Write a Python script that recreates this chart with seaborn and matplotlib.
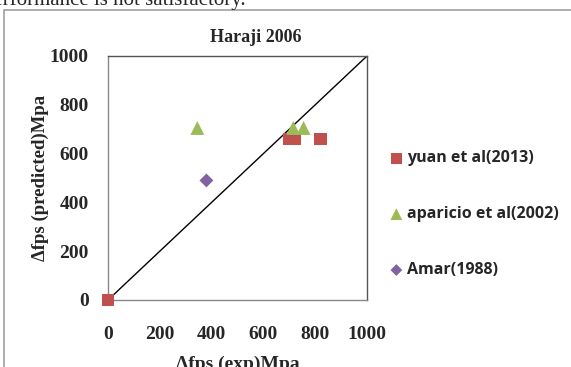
import matplotlib
matplotlib.use("Agg")
import matplotlib.pyplot as plt
import seaborn as sns
import pandas as pd
from matplotlib.patches import Rectangle

# data
yuan_x = [0, 700, 720, 820]
yuan_y = [0, 660, 660, 660]
apar_x = [345, 715, 755]
apar_y = [705, 705, 705]
amar_x = [380]
amar_y = [490]
series_names = ["yuan et al(2013)", "aparicio et al(2002)", "Amar(1988)"]
ticks = [0, 200, 400, 600, 800, 1000]
line_x = [0, 1000]
line_y = [0, 1000]

df = pd.DataFrame({
    "x": yuan_x + apar_x + amar_x,
    "y": yuan_y + apar_y + amar_y,
    "s": [series_names[0]] * len(yuan_x) + [series_names[1]] * len(apar_x) + [series_names[2]] * len(amar_x),
})

sns.set_style("white")
plt.rcParams["font.family"] = ["Liberation Serif", "DejaVu Serif"]

fig = plt.figure(figsize=(5.71, 3.67), dpi=100)
W, H = 571, 367
ax = fig.add_axes([108 / W, 1 - 300 / H, (367 - 108) / W, (300 - 56) / H])

# outer frame border
fig.patches.append(Rectangle((4 / W, -0.1), 1.2, 1 - 10 / H + 0.1, transform=fig.transFigure,
                             fill=False, edgecolor="#a0a0a0", linewidth=1.2))
fig.text(-17 / W, 1 - 5 / H, "performance is not satisfactory.", fontsize=15,
         ha="left", va="baseline")

ax.plot(line_x, line_y, color="black", lw=1, zorder=1)

palette = {series_names[0]: "#C0504D", series_names[1]: "#9BBB59", series_names[2]: "#8064A2"}
markers = {series_names[0]: "s", series_names[1]: "^", series_names[2]: "D"}
sizes = {series_names[0]: 85, series_names[1]: 100, series_names[2]: 50}
for name in series_names:
    sub = df[df["s"] == name]
    sns.scatterplot(data=sub, x="x", y="y", color=palette[name], marker=markers[name],
                    s=sizes[name], edgecolor="none", ax=ax, label=name, zorder=3, clip_on=False)

ax.set_xlim(0, 1000)
ax.set_ylim(0, 1000)
ax.set_xticks(ticks)
ax.set_yticks(ticks)
ax.set_xticklabels([str(t) for t in ticks], fontweight="bold", fontsize=14)
ax.set_yticklabels([str(t) for t in ticks], fontweight="bold", fontsize=14)
ax.tick_params(axis="both", direction="out", length=4, width=1, color="#888888")
ax.tick_params(axis="y", pad=10)
ax.tick_params(axis="x", pad=15)
for sp in ax.spines.values():
    sp.set_color("#555555")
    sp.set_linewidth(1)
for k in ["left", "bottom"]:
    ax.spines[k].set_color("#888888")

ax.set_title("Haraji 2006", fontweight="bold", fontsize=13, pad=10, x=(256 - 108) / 259)
ax.set_xlabel("Δfps (exp)Mpa", fontweight="bold", fontsize=14, labelpad=9)
ax.set_ylabel("Δfps (predicted)Mpa", fontweight="bold", fontsize=13.5, labelpad=0.5)

if ax.get_legend():
    ax.get_legend().remove()
h, l = ax.get_legend_handles_labels()
leg = fig.legend(h, l, loc="upper left", bbox_to_anchor=(374 / W, 1 - 136 / H),
                 frameon=False, labelspacing=2.5, handletextpad=0.15, handlelength=1.0,
                 prop={"family": "Open Sans", "weight": "bold", "size": 11.5}, markerscale=0.85)

fig.savefig("out.png", dpi=100)
